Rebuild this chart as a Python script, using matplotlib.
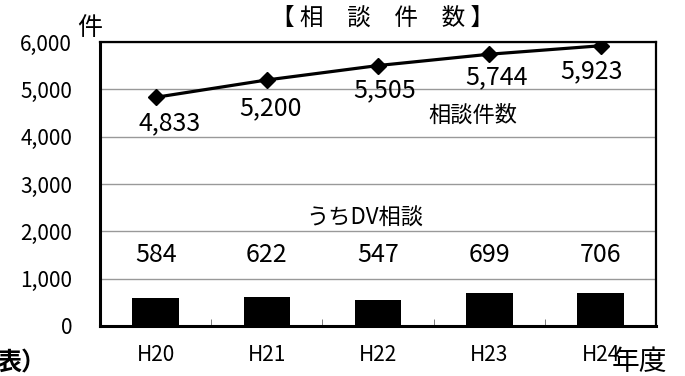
import numpy as np
import matplotlib
matplotlib.use("Agg")
from matplotlib import pyplot as plt

plt.rcParams['font.family'] = ['Noto Sans CJK JP', 'DejaVu Sans']

years = ["H20", "H21", "H22", "H23", "H24"]
total = [4833, 5200, 5505, 5744, 5923]
dv = [584, 622, 547, 699, 706]

# label anchors picked to sit like the original layout
total_lab_x = [0.13, 1.03, 2.06, 3.06, 3.92]
total_lab_y = [4280, 4600, 4990, 5260, 5390]

fig = plt.figure(figsize=(6.85, 3.76), dpi=100)
ax = fig.add_axes([0.146, 0.133, 0.812, 0.755])

x = np.arange(len(years))
ax.bar(x, dv, width=0.42, color="black", zorder=3)
ax.plot(x, total, color="black", lw=2.3, marker="D", ms=8, zorder=4)

for xi, v in zip(x, dv):
    ax.text(xi, 1500, f"{v:,}", ha="center", va="center", fontsize=18)
for lx, ly, v in zip(total_lab_x, total_lab_y, total):
    ax.text(lx, ly, f"{v:,}", ha="center", va="center", fontsize=18)

ax.text(1.88, 2280, "うちDV相談", ha="center", va="center", fontsize=16)
ax.text(2.85, 4460, "相談件数", ha="center", va="center", fontsize=16)

ax.set_xlim(-0.5, 4.5)
ax.set_ylim(0, 6000)
ax.set_yticks(np.arange(0, 6001, 1000))
ax.set_yticklabels([f"{v:,}" for v in range(0, 6001, 1000)])
ax.yaxis.grid(True, color="#999999", lw=1, zorder=0)
ax.set_axisbelow(True)

ax.set_xticks(x)
ax.set_xticklabels(years)
ax.set_xticks(np.arange(0.5, 4.5, 1), minor=True)
ax.tick_params(axis="x", which="major", length=0, pad=13, labelsize=15)
ax.tick_params(axis="x", which="minor", direction="in", length=5, color="#666666")
ax.tick_params(axis="y", length=0, pad=20, labelsize=15)

for s in ax.spines.values():
    s.set_color("black")
    s.set_linewidth(1.6)
ax.spines["bottom"].set_linewidth(2.2)
ax.spines["left"].set_linewidth(2.2)

fig.text(0.558, 0.952, "【 相　談　件　数 】", ha="center", va="center", fontsize=17)
fig.text(0.131, 0.925, "件", ha="center", va="center", fontsize=18)
fig.text(0.893, 0.037, "年度", ha="left", va="center", fontsize=20)
fig.text(-0.005, 0.064, "表）", ha="left", va="top", fontsize=18, fontweight="bold")

fig.savefig("out.png", dpi=100)
